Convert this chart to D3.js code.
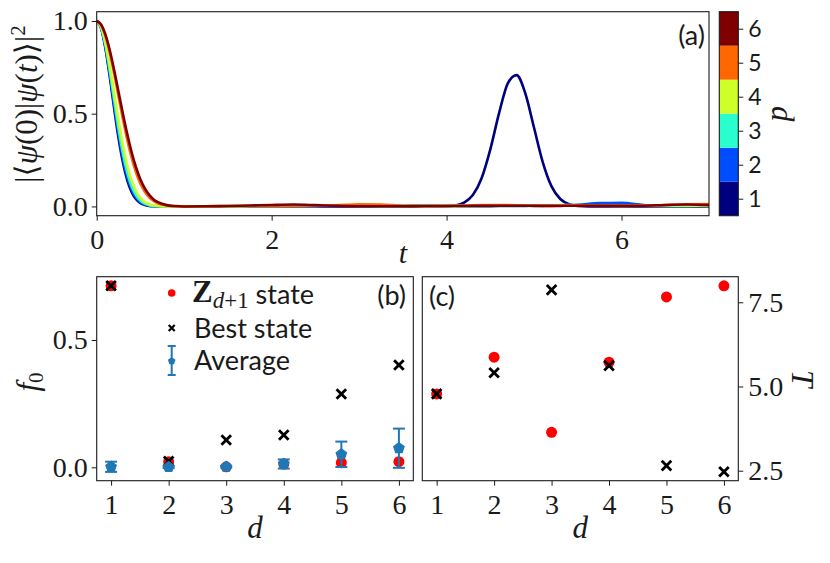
<!DOCTYPE html>
<html>
<head>
<meta charset="utf-8">
<script src="https://cdn.jsdelivr.net/npm/d3@7"></script>
<style>
  body { margin: 0; background: #fff; }
  svg { display: block; }
</style>
</head>
<body>
<svg id="chart" width="830" height="563"></svg>
<script>
// panel (a): return probability for each depth d
const times = [0, 0.05, 0.1, 0.15, 0.2, 0.25, 0.3, 0.35, 0.4, 0.45, 0.5, 0.55, 0.6, 0.65, 0.7, 0.8, 0.9, 1.0,
  1.25, 1.5, 1.75, 2.0, 2.25, 2.5, 2.75, 3.0, 3.25, 3.5, 3.75, 4.0,
  4.1, 4.2, 4.3, 4.4, 4.5, 4.6, 4.7, 4.8, 4.9, 5.0, 5.1, 5.2, 5.3, 5.4, 5.5,
  5.75, 6.0, 6.25, 6.5, 6.75, 7.0];
const fid1 = [1, 0.961, 0.852, 0.698, 0.527, 0.368, 0.237, 0.141, 0.077, 0.039, 0.018, 0.008, 0.003, 0.001, 0, 0, 0, 0,
  0, 0, 0, 0, 0, 0, 0, 0, 0, 0, 0.001, 0.001,
  0.005, 0.020, 0.061, 0.152, 0.308, 0.503, 0.664, 0.708, 0.610, 0.424, 0.238, 0.108, 0.040, 0.012, 0.003,
  0, 0, 0, 0, 0, 0];
const fid2 = [1, 0.963, 0.860, 0.713, 0.548, 0.391, 0.259, 0.159, 0.090, 0.048, 0.023, 0.011, 0.005, 0.002, 0.001, 0, 0, 0,
  0, 0.001, 0.001, 0.002, 0.002, 0.001, 0.001, 0.002, 0.003, 0.004, 0.004, 0.002,
  0.002, 0.001, 0.001, 0.001, 0.001, 0.002, 0.002, 0.003, 0.003, 0.004, 0.004, 0.005, 0.006, 0.007, 0.009,
  0.018, 0.019, 0.008, 0.002, 0.001, 0.001];
const fid3 = [1, 0.966, 0.870, 0.731, 0.573, 0.419, 0.286, 0.182, 0.108, 0.060, 0.031, 0.015, 0.007, 0.003, 0.001, 0, 0, 0,
  0.001, 0.001, 0.002, 0.003, 0.002, 0.003, 0.004, 0.003, 0.002, 0.003, 0.005, 0.003,
  0.002, 0.001, 0.001, 0.002, 0.002, 0.003, 0.003, 0.002, 0.002, 0.002, 0.003, 0.004, 0.004, 0.004, 0.004,
  0.005, 0.006, 0.004, 0.003, 0.003, 0.004];
const fid4 = [1, 0.970, 0.884, 0.758, 0.611, 0.463, 0.330, 0.221, 0.139, 0.083, 0.046, 0.024, 0.012, 0.006, 0.002, 0, 0, 0,
  0.001, 0.001, 0.002, 0.003, 0.004, 0.005, 0.008, 0.005, 0.003, 0.002, 0.002, 0.002,
  0.003, 0.003, 0.004, 0.005, 0.005, 0.006, 0.006, 0.005, 0.004, 0.004, 0.005, 0.006, 0.007, 0.007, 0.006,
  0.004, 0.003, 0.004, 0.005, 0.004, 0.003];
const fid5 = [1, 0.979, 0.919, 0.828, 0.715, 0.592, 0.470, 0.357, 0.261, 0.182, 0.122, 0.079, 0.049, 0.029, 0.016, 0.005, 0.001, 0,
  0.001, 0.002, 0.002, 0.003, 0.003, 0.004, 0.006, 0.012, 0.010, 0.004, 0.002, 0.003,
  0.004, 0.005, 0.006, 0.007, 0.008, 0.008, 0.007, 0.006, 0.005, 0.004, 0.003, 0.003, 0.004, 0.005, 0.006,
  0.006, 0.005, 0.005, 0.007, 0.011, 0.013];
const fid6 = [1, 0.981, 0.926, 0.841, 0.734, 0.617, 0.499, 0.389, 0.291, 0.210, 0.145, 0.097, 0.062, 0.038, 0.023, 0.007, 0.002, 0,
  0.001, 0.002, 0.005, 0.008, 0.010, 0.007, 0.003, 0.001, 0.001, 0.001, 0.002, 0.002,
  0.002, 0.002, 0.003, 0.003, 0.003, 0.004, 0.004, 0.004, 0.004, 0.003, 0.003, 0.003, 0.003, 0.004, 0.004,
  0.004, 0.003, 0.004, 0.008, 0.010, 0.007];
const fidelities = [fid1, fid2, fid3, fid4, fid5, fid6];

// panels (b) and (c)
const depths = [1, 2, 3, 4, 5, 6];
const zF0 = [0.713, 0.022, 0.002, 0.013, 0.018, 0.022];
const bestF0 = [0.713, 0.024, 0.107, 0.127, 0.288, 0.402];
const avgF0 = [0.002, 0.001, 0.002, 0.013, 0.051, 0.075];
const avgErr = [0.02, 0.004, 0.003, 0.018, 0.05, 0.077];
const zT = [4.78, 5.87, 3.64, 5.72, 7.66, 7.99];
const bestT = [4.78, 5.41, 7.87, 5.62, 2.65, 2.47];

const aTicksX = [0, 2, 4, 6];
const aTicksY = [0, 0.5, 1.0];
const bTicksY = [0, 0.5];
const cTicksY = [2.5, 5.0, 7.5];

const jet = ["#00007f", "#004cff", "#29ffce", "#ceff29", "#ff6800", "#7f0000"];
const serif = "'Liberation Serif', 'DejaVu Serif', serif";
const sans = "Lato, 'Open Sans', sans-serif";
const ink = "#1a1a1a";

const svg = d3.select("#chart");

const A = {left: 96.7, right: 709, top: 11.7, bottom: 215.7};
const CB = {left: 719.3, right: 738.3, top: 11.7, bottom: 215.7};
const B = {left: 96.7, right: 413.3, top: 276.7, bottom: 480.7};
const C = {left: 422.3, right: 738.3, top: 276.7, bottom: 480.7};

function styleAxis(g, font, size) {
  g.attr("font-family", font).attr("font-size", size).attr("color", ink);
  g.select(".domain").remove();
  g.selectAll(".tick line").attr("stroke-width", 1);
}

function frame(box) {
  svg.append("rect")
     .attr("x", box.left).attr("y", box.top)
     .attr("width", box.right - box.left).attr("height", box.bottom - box.top)
     .attr("fill", "none").attr("stroke", ink).attr("stroke-width", 1.1);
}

function crossPath(h) {
  return `M${-h},${-h}L${h},${h}M${-h},${h}L${h},${-h}`;
}

function pentagonPath(r) {
  const p = d3.path();
  for (let i = 0; i < 5; i++) {
    const a = -Math.PI / 2 + i * 2 * Math.PI / 5;
    if (i === 0) p.moveTo(r * Math.cos(a), r * Math.sin(a));
    else p.lineTo(r * Math.cos(a), r * Math.sin(a));
  }
  p.closePath();
  return p.toString();
}

// ---------- panel (a)
const xA = d3.scaleLinear().domain([0, 7]).range([A.left, A.right]);
const yA = d3.scaleLinear().domain([-0.05, 1.05]).range([A.bottom, A.top]);

svg.append("g")
   .attr("transform", `translate(0,${A.bottom})`)
   .call(d3.axisBottom(xA).tickValues(aTicksX).tickFormat(d3.format("d")).tickSize(5).tickPadding(8))
   .call(g => styleAxis(g, serif, 28));

svg.append("g")
   .attr("transform", `translate(${A.left},0)`)
   .call(d3.axisLeft(yA).tickValues(aTicksY).tickFormat(d3.format(".1f")).tickSize(5).tickPadding(4))
   .call(g => styleAxis(g, serif, 28));

const line = d3.line()
  .x((d, i) => xA(times[i]))
  .y(d => yA(d))
  .curve(d3.curveMonotoneX);

svg.append("g")
   .selectAll("path")
   .data(fidelities)
   .enter()
   .append("path")
   .attr("d", d => line(d))
   .attr("fill", "none")
   .attr("stroke", (d, i) => jet[i])
   .attr("stroke-width", 2.6)
   .attr("stroke-linejoin", "round");

frame(A);

svg.append("text")
   .attr("x", 705).attr("y", 45)
   .attr("text-anchor", "end")
   .attr("font-family", sans).attr("font-size", 27).attr("fill", ink)
   .text("(a)");

svg.append("text")
   .attr("x", xA(3.5)).attr("y", 263)
   .attr("text-anchor", "middle")
   .attr("font-family", serif).attr("font-size", 30).attr("font-style", "italic").attr("fill", ink)
   .text("t");

const ylab = svg.append("text")
   .attr("transform", "translate(37,104) rotate(-90)")
   .attr("text-anchor", "middle")
   .attr("font-family", serif).attr("font-size", 31).attr("fill", ink);
ylab.append("tspan").text("|\u27E8");
ylab.append("tspan").attr("font-style", "italic").text("\u03C8");
ylab.append("tspan").text("(0)|");
ylab.append("tspan").attr("font-style", "italic").text("\u03C8");
ylab.append("tspan").text("(");
ylab.append("tspan").attr("font-style", "italic").text("t");
ylab.append("tspan").text(")\u27E9|");
ylab.append("tspan").attr("font-size", 21).attr("dy", -12).text("2");

// colorbar
const yCB = d3.scaleLinear().domain([0.5, 6.5]).range([CB.bottom, CB.top]);
svg.append("g")
   .selectAll("rect")
   .data(depths)
   .enter()
   .append("rect")
   .attr("x", CB.left)
   .attr("y", d => yCB(d + 0.5))
   .attr("width", CB.right - CB.left)
   .attr("height", d => yCB(d - 0.5) - yCB(d + 0.5))
   .attr("fill", (d, i) => jet[i]);
frame(CB);

svg.append("g")
   .attr("transform", `translate(${CB.right},0)`)
   .call(d3.axisRight(yCB).tickValues(depths).tickFormat(d3.format("d")).tickSize(5).tickPadding(5))
   .call(g => styleAxis(g, sans, 23));

svg.append("text")
   .attr("transform", "translate(772,113.7) rotate(90)")
   .attr("text-anchor", "middle")
   .attr("font-family", serif).attr("font-size", 31).attr("font-style", "italic").attr("fill", ink)
   .text("d");

// ---------- panel (b)
const xB = d3.scaleLinear().domain([0.75, 6.25]).range([B.left, B.right]);
const yB = d3.scaleLinear().domain([-0.0526, 0.7486]).range([B.bottom, B.top]);

svg.append("g")
   .attr("transform", `translate(0,${B.bottom})`)
   .call(d3.axisBottom(xB).tickValues(depths).tickFormat(d3.format("d")).tickSize(5).tickPadding(8))
   .call(g => styleAxis(g, serif, 28));

svg.append("g")
   .attr("transform", `translate(${B.left},0)`)
   .call(d3.axisLeft(yB).tickValues(bTicksY).tickFormat(d3.format(".1f")).tickSize(5).tickPadding(4))
   .call(g => styleAxis(g, serif, 28));

const gB = svg.append("g");
gB.selectAll(".z")
  .data(depths)
  .enter()
  .append("circle")
  .attr("cx", d => xB(d))
  .attr("cy", (d, i) => yB(zF0[i]))
  .attr("r", 5.5)
  .attr("fill", "red");

gB.selectAll(".best")
  .data(depths)
  .enter()
  .append("path")
  .attr("transform", (d, i) => `translate(${xB(d)},${yB(bestF0[i])})`)
  .attr("d", crossPath(4.8))
  .attr("stroke", "#000").attr("stroke-width", 2.8).attr("fill", "none");

const avg = gB.selectAll(".avg")
  .data(depths)
  .enter()
  .append("g")
  .attr("transform", d => `translate(${xB(d)},0)`);
avg.append("line")
   .attr("y1", (d, i) => yB(avgF0[i] - avgErr[i]))
   .attr("y2", (d, i) => yB(avgF0[i] + avgErr[i]))
   .attr("stroke", "#1f77b4").attr("stroke-width", 2);
avg.append("line")
   .attr("x1", -6).attr("x2", 6)
   .attr("y1", (d, i) => yB(avgF0[i] - avgErr[i]))
   .attr("y2", (d, i) => yB(avgF0[i] - avgErr[i]))
   .attr("stroke", "#1f77b4").attr("stroke-width", 2);
avg.append("line")
   .attr("x1", -6).attr("x2", 6)
   .attr("y1", (d, i) => yB(avgF0[i] + avgErr[i]))
   .attr("y2", (d, i) => yB(avgF0[i] + avgErr[i]))
   .attr("stroke", "#1f77b4").attr("stroke-width", 2);
avg.append("path")
   .attr("transform", (d, i) => `translate(0,${yB(avgF0[i])})`)
   .attr("d", pentagonPath(6.2))
   .attr("fill", "#1f77b4");

frame(B);

svg.append("text")
   .attr("x", 406).attr("y", 305)
   .attr("text-anchor", "end")
   .attr("font-family", sans).attr("font-size", 27).attr("fill", ink)
   .text("(b)");

// legend
const leg = svg.append("g");
leg.append("circle").attr("cx", 171.7).attr("cy", 293).attr("r", 3.8).attr("fill", "red");
leg.append("path").attr("transform", "translate(171.7,328)").attr("d", crossPath(3))
   .attr("stroke", "#000").attr("stroke-width", 2.2).attr("fill", "none");
leg.append("line").attr("x1", 171.7).attr("x2", 171.7).attr("y1", 346).attr("y2", 375)
   .attr("stroke", "#1f77b4").attr("stroke-width", 2);
leg.append("line").attr("x1", 167.7).attr("x2", 175.7).attr("y1", 346).attr("y2", 346)
   .attr("stroke", "#1f77b4").attr("stroke-width", 2);
leg.append("line").attr("x1", 167.7).attr("x2", 175.7).attr("y1", 375).attr("y2", 375)
   .attr("stroke", "#1f77b4").attr("stroke-width", 2);
leg.append("path").attr("transform", "translate(171.7,361)").attr("d", pentagonPath(4))
   .attr("fill", "#1f77b4");

const l1 = leg.append("text").attr("x", 192).attr("y", 302).attr("fill", ink);
l1.append("tspan").attr("font-family", serif).attr("font-size", 31).attr("font-weight", "bold").text("Z");
l1.append("tspan").attr("font-family", serif).attr("font-size", 23).attr("font-style", "italic").attr("dy", 6).text("d");
l1.append("tspan").attr("font-family", serif).attr("font-size", 23).text("+1");
l1.append("tspan").attr("font-family", sans).attr("font-size", 27).attr("dy", -4).text("\u00A0state");
leg.append("text").attr("x", 194).attr("y", 338).attr("fill", ink)
   .attr("font-family", sans).attr("font-size", 27).text("Best state");
leg.append("text").attr("x", 194).attr("y", 370).attr("fill", ink)
   .attr("font-family", sans).attr("font-size", 27).text("Average");

svg.append("text")
   .attr("transform", "translate(38,382) rotate(-90)")
   .attr("text-anchor", "middle")
   .attr("font-family", serif).attr("font-size", 31).attr("fill", ink)
   .call(t => {
     t.append("tspan").attr("font-style", "italic").text("f");
     t.append("tspan").attr("font-size", 21).attr("dy", 5).text("0");
   });

svg.append("text")
   .attr("x", xB(3.5)).attr("y", 538)
   .attr("text-anchor", "middle")
   .attr("font-family", serif).attr("font-size", 31).attr("font-style", "italic").attr("fill", ink)
   .text("d");

// ---------- panel (c)
const xC = d3.scaleLinear().domain([0.75, 6.25]).range([C.left, C.right]);
const yC = d3.scaleLinear().domain([2.203, 8.26]).range([C.bottom, C.top]);

svg.append("g")
   .attr("transform", `translate(0,${C.bottom})`)
   .call(d3.axisBottom(xC).tickValues(depths).tickFormat(d3.format("d")).tickSize(5).tickPadding(8))
   .call(g => styleAxis(g, serif, 28));

svg.append("g")
   .attr("transform", `translate(${C.right},0)`)
   .call(d3.axisRight(yC).tickValues(cTicksY).tickFormat(d3.format(".1f")).tickSize(5).tickPadding(5))
   .call(g => styleAxis(g, serif, 28));

const gC = svg.append("g");
gC.selectAll(".z")
  .data(depths)
  .enter()
  .append("circle")
  .attr("cx", d => xC(d))
  .attr("cy", (d, i) => yC(zT[i]))
  .attr("r", 5.5)
  .attr("fill", "red");
gC.selectAll(".best")
  .data(depths)
  .enter()
  .append("path")
  .attr("transform", (d, i) => `translate(${xC(d)},${yC(bestT[i])})`)
  .attr("d", crossPath(4.8))
  .attr("stroke", "#000").attr("stroke-width", 2.8).attr("fill", "none");

frame(C);

svg.append("text")
   .attr("x", 429).attr("y", 306)
   .attr("font-family", sans).attr("font-size", 27).attr("fill", ink)
   .text("(c)");

svg.append("text")
   .attr("x", xC(3.5)).attr("y", 538)
   .attr("text-anchor", "middle")
   .attr("font-family", serif).attr("font-size", 31).attr("font-style", "italic").attr("fill", ink)
   .text("d");

svg.append("text")
   .attr("transform", "translate(792,378.7) rotate(90)")
   .attr("text-anchor", "middle")
   .attr("font-family", serif).attr("font-size", 31).attr("font-style", "italic").attr("fill", ink)
   .text("T");
</script>
</body>
</html>
